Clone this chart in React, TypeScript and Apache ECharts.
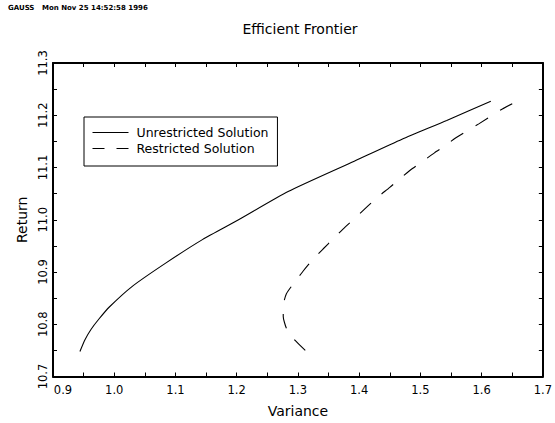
import React, { useEffect, useRef } from "react";
import * as echarts from "echarts";

const headerLeft = "GAUSS";
const headerRight = "Mon Nov 25 14:52:58 1996";
const titleText = "Efficient Frontier";
const xName = "Variance";
const yName = "Return";
const seriesNames = ["Unrestricted Solution", "Restricted Solution"];

// [variance, return]
const unrestricted: [number, number][] = [
  [0.944, 10.748], [0.952, 10.77], [0.962, 10.79], [0.975, 10.81],
  [0.992, 10.833], [1.03, 10.873], [1.084, 10.917], [1.144, 10.962],
  [1.203, 11.0], [1.284, 11.054], [1.392, 11.112], [1.47, 11.154],
  [1.543, 11.19], [1.615, 11.227],
];

const restricted: [number, number][] = [
  [1.312, 10.75], [1.293, 10.772], [1.281, 10.793], [1.276, 10.815],
  [1.276, 10.835], [1.281, 10.858], [1.293, 10.878], [1.308, 10.901],
  [1.323, 10.922], [1.341, 10.944], [1.358, 10.964], [1.377, 10.986],
  [1.395, 11.005], [1.414, 11.026], [1.431, 11.044], [1.45, 11.062],
  [1.468, 11.08], [1.487, 11.098], [1.504, 11.112], [1.523, 11.128],
  [1.541, 11.142], [1.558, 11.157], [1.596, 11.184], [1.631, 11.21],
  [1.65, 11.222],
];

const xMin = 0.9, xMax = 1.7, yMin = 10.7, yMax = 11.3, step = 0.05;

const FONT = "DejaVu Sans";

export default function App() {
  const ref = useRef<HTMLDivElement>(null);
  useEffect(() => {
    if (!ref.current) return;
    const chart = echarts.init(ref.current, null, { renderer: "svg" });
    const major = (v: number) => Math.round(v * 100) % 10 === 0;
    const axisCommon = {
      type: "value" as const,
      interval: step,
      splitLine: { show: false },
      axisLine: { show: true, lineStyle: { color: "#000", width: 2 } },
      axisTick: { show: true, inside: true, length: 4, lineStyle: { color: "#000", width: 1 } },
    };
    const hiddenSymbol = { opacity: 0, color: "transparent", borderWidth: 0 };
    chart.setOption({
      animation: false,
      backgroundColor: "#fff",
      textStyle: { fontFamily: FONT, color: "#000" },
      title: {
        text: titleText,
        left: 300,
        textAlign: "center",
        top: 22,
        padding: 0,
        textStyle: { fontFamily: FONT, fontSize: 14, fontWeight: "normal", color: "#000" },
      },
      graphic: [
        { type: "text", left: 8, top: 4, style: { text: headerLeft, font: `bold 7px "${FONT}"`, fill: "#000" } },
        { type: "text", left: 42, top: 4, style: { text: headerRight, font: `bold 7px "${FONT}"`, fill: "#000" } },
      ],
      legend: {
        orient: "vertical",
        left: 84,
        top: 117,
        padding: [9, 9, 11, 8],
        itemGap: 3,
        itemWidth: 36,
        itemHeight: 14,
        borderColor: "#000",
        borderWidth: 1,
        borderRadius: 0,
        textStyle: { fontFamily: FONT, fontSize: 12.5, color: "#000", padding: [0, 0, 0, 3] },
        data: [
          { name: seriesNames[0], itemStyle: hiddenSymbol, lineStyle: { color: "#000", width: 1, type: "solid" } },
          { name: seriesNames[1], itemStyle: hiddenSymbol, lineStyle: { color: "#000", width: 1, type: [12, 12] } },
        ],
      },
      grid: { left: 53, right: 8, top: 63, bottom: 46.5, containLabel: false },
      xAxis: [
        {
          ...axisCommon,
          min: xMin,
          max: xMax,
          position: "bottom",
          name: xName,
          nameLocation: "middle",
          nameGap: 27,
          nameTextStyle: { fontFamily: FONT, fontSize: 14, color: "#000" },
          axisLabel: {
            margin: 7,
            fontFamily: FONT,
            fontSize: 11.5,
            color: "#000",
            formatter: (v: number) => {
              if (!major(v)) return "";
              const s = v.toFixed(1);
              return Math.abs(v - xMin) < 1e-6 ? `{s|${s}}` : s;
            },
            rich: { s: { padding: [0, 0, 0, 20], fontFamily: FONT, fontSize: 11.5, color: "#000" } },
          },
        },
        { ...axisCommon, min: xMin, max: xMax, position: "top", axisLabel: { show: false } },
      ],
      yAxis: [
        {
          ...axisCommon,
          min: yMin,
          max: yMax,
          position: "left",
          name: yName,
          nameLocation: "middle",
          nameRotate: 90,
          nameGap: 24,
          nameTextStyle: { fontFamily: FONT, fontSize: 14, color: "#000" },
          axisLabel: {
            rotate: 90,
            margin: 4,
            fontFamily: FONT,
            fontSize: 11.5,
            color: "#000",
            formatter: (v: number) => (major(v) ? v.toFixed(1) : ""),
          },
        },
        { ...axisCommon, min: yMin, max: yMax, position: "right", axisLabel: { show: false } },
      ],
      series: [
        {
          name: seriesNames[0],
          type: "line",
          data: unrestricted,
          symbol: "none",
          smooth: 0.2,
          lineStyle: { color: "#000", width: 1.1, type: "solid" },
          itemStyle: { color: "#000" },
        },
        {
          name: seriesNames[1],
          type: "line",
          data: restricted,
          symbol: "none",
          smooth: 0.2,
          lineStyle: { color: "#000", width: 1.1, type: [15, 14] },
          itemStyle: { color: "#000" },
        },
      ],
    });
    return () => chart.dispose();
  }, []);
  return <div ref={ref} style={{ width: 555, height: 423, position: "absolute", left: 0, top: 0 }} />;
}
